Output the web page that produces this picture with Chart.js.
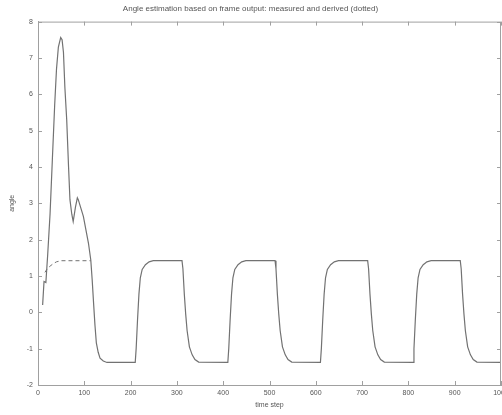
<!DOCTYPE html>
<html>
<head>
<meta charset="utf-8">
<script src="https://cdn.jsdelivr.net/npm/chart.js@4/dist/chart.umd.min.js"></script>
<style>
  html, body { margin: 0; padding: 0; background: #fff; }
  #wrap { width: 502px; height: 415px; }
</style>
</head>
<body>
<div id="wrap"><canvas id="chart"></canvas></div>
<script>
// measured (solid) angle
const measuredT = [
    10, 13, 17, 21, 26, 31, 36, 40, 44, 49, 52, 55, 58, 62, 66, 69, 73, 76, 81, 85, 87,
    98, 109, 114, 117, 120, 123, 126, 130, 134, 141, 149,
    210, 212, 215, 218, 221, 225, 232, 240, 249,
    311, 313, 316, 319, 322, 327, 333, 339, 347,
    410, 412, 415, 418, 421, 425, 432, 440, 449,
    512, 514, 517, 520, 523, 528, 534, 540, 548,
    610, 612, 615, 618, 621, 625, 632, 640, 649,
    712, 714, 717, 720, 723, 728, 734, 740, 748,
    810, 812, 815, 818, 821, 825, 832, 840, 849,
    912, 914, 917, 920, 923, 928, 934, 940, 948,
    1000
];
const measuredAngle = [
    0.2, 0.85, 0.82, 1.6, 2.7, 4.2, 5.7, 6.7, 7.3, 7.56, 7.5, 7.15, 6.2, 5.3, 4.0, 3.1, 2.7, 2.5, 2.9, 3.15, 3.1,
    2.64, 1.9, 1.44, 0.9, 0.26, -0.35, -0.84, -1.1, -1.26, -1.34, -1.38,
    -1.38, -1.0, -0.2, 0.5, 0.95, 1.18, 1.31, 1.39, 1.42,
    1.42, 1.2, 0.5, -0.05, -0.5, -0.95, -1.17, -1.3, -1.37,
    -1.38, -1.0, -0.2, 0.5, 0.95, 1.18, 1.31, 1.39, 1.42,
    1.42, 1.2, 0.5, -0.05, -0.5, -0.95, -1.17, -1.3, -1.37,
    -1.38, -1.0, -0.2, 0.5, 0.95, 1.18, 1.31, 1.39, 1.42,
    1.42, 1.2, 0.5, -0.05, -0.5, -0.95, -1.17, -1.3, -1.37,
    -1.38, -1.0, -0.2, 0.5, 0.95, 1.18, 1.31, 1.39, 1.42,
    1.42, 1.2, 0.5, -0.05, -0.5, -0.95, -1.17, -1.3, -1.37,
    -1.38
];

// derived (dotted) angle, only visible before it joins the measured line
const derivedT = [15, 20, 26, 33, 40, 50, 114];
const derivedAngle = [1.1, 1.2, 1.27, 1.34, 1.39, 1.42, 1.42];

// axis ticks
const xTicks = [0, 100, 200, 300, 400, 500, 600, 700, 800, 900, 1000];
const yTicks = [-2, -1, 0, 1, 2, 3, 4, 5, 6, 7, 8];

const lineColor = '#727272';
const axisColor = '#a0a0a0';
const textColor = '#555';

function toPoints(xs, ys) {
    return xs.map((x, i) => ({ x: x, y: ys[i] }));
}

// frame box + inward tick marks (matlab look)
const framePlugin = {
    id: 'frame',
    afterDatasetsDraw(chart) {
        const { ctx, chartArea: a, scales } = chart;
        ctx.save();
        ctx.strokeStyle = axisColor;
        ctx.lineWidth = 1;
        ctx.strokeRect(a.left + 0.5, a.top + 0.5, a.right - a.left - 1, a.bottom - a.top);
        ctx.beginPath();
        xTicks.forEach(v => {
            const px = Math.round(scales.x.getPixelForValue(v)) + 0.5;
            ctx.moveTo(px, a.bottom); ctx.lineTo(px, a.bottom - 4);
            ctx.moveTo(px, a.top); ctx.lineTo(px, a.top + 4);
        });
        yTicks.forEach(v => {
            const py = Math.round(scales.y.getPixelForValue(v)) + 0.5;
            ctx.moveTo(a.left, py); ctx.lineTo(a.left + 4, py);
            ctx.moveTo(a.right, py); ctx.lineTo(a.right - 4, py);
        });
        ctx.stroke();
        ctx.restore();
    }
};

new Chart(document.getElementById('chart'), {
    type: 'line',
    data: {
        datasets: [
            {
                label: 'derived',
                data: toPoints(derivedT, derivedAngle),
                borderColor: lineColor,
                borderWidth: 1,
                borderDash: [4, 3],
                pointRadius: 0,
                tension: 0
            },
            {
                label: 'measured',
                data: toPoints(measuredT, measuredAngle),
                borderColor: lineColor,
                borderWidth: 1.2,
                pointRadius: 0,
                tension: 0
            }
        ]
    },
    options: {
        responsive: true,
        maintainAspectRatio: false,
        animation: false,
        layout: { padding: { top: 0, right: 1, bottom: 0, left: 0 } },
        plugins: {
            legend: { display: false },
            tooltip: { enabled: false },
            title: {
                display: true,
                text: 'Angle estimation based on frame output: measured and derived (dotted)',
                color: textColor,
                font: { family: 'Liberation Sans', size: 8, weight: 'normal' },
                padding: { top: 4, bottom: 8 }
            }
        },
        scales: {
            x: {
                type: 'linear',
                min: 0,
                max: 1000,
                afterBuildTicks: scale => { scale.ticks = xTicks.map(v => ({ value: v })); },
                afterFit: scale => { scale.height = 30; scale.paddingLeft = 0; scale.paddingRight = 0; },
                grid: { display: false, drawTicks: false },
                border: { display: true, color: axisColor },
                ticks: {
                    color: textColor,
                    font: { family: 'Liberation Sans', size: 7 },
                    padding: 4,
                    maxRotation: 0,
                    autoSkip: false,
                    callback: v => String(v)
                },
                title: {
                    display: true,
                    text: 'time step',
                    color: textColor,
                    font: { family: 'Liberation Sans', size: 7 },
                    padding: { top: 0, bottom: 6 }
                }
            },
            y: {
                min: -2,
                max: 8,
                afterBuildTicks: scale => { scale.ticks = yTicks.map(v => ({ value: v })); },
                afterFit: scale => { scale.width = 38; scale.paddingTop = 0; scale.paddingBottom = 0; },
                grid: { display: false, drawTicks: false },
                border: { display: true, color: axisColor },
                ticks: {
                    color: textColor,
                    font: { family: 'Liberation Sans', size: 7 },
                    padding: 5
                },
                title: {
                    display: true,
                    text: 'angle',
                    color: textColor,
                    font: { family: 'Liberation Sans', size: 7 },
                    padding: { top: 8, bottom: 0 }
                }
            }
        }
    },
    plugins: [framePlugin]
});
</script>
</body>
</html>
